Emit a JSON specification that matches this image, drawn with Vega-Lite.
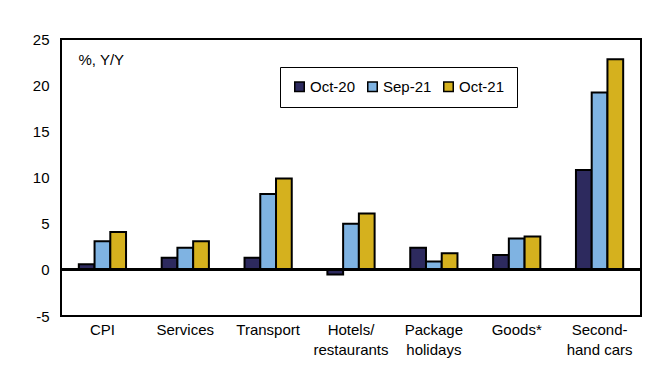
{
  "$schema": "https://vega.github.io/schema/vega-lite/v6.json",
  "width": 580,
  "height": 277,
  "autosize": {"type": "none"},
  "padding": {"left": 61, "top": 39, "right": 27, "bottom": 50},
  "background": "white",
  "config": {
    "view": {"stroke": "black", "strokeWidth": 2},
    "font": "Liberation Sans"
  },
  "data": {
    "values": [
      {"cat": "CPI", "series": "Oct-20", "value": 0.6},
      {"cat": "CPI", "series": "Sep-21", "value": 3.1},
      {"cat": "CPI", "series": "Oct-21", "value": 4.1},
      {"cat": "Services", "series": "Oct-20", "value": 1.3},
      {"cat": "Services", "series": "Sep-21", "value": 2.4},
      {"cat": "Services", "series": "Oct-21", "value": 3.1},
      {"cat": "Transport", "series": "Oct-20", "value": 1.3},
      {"cat": "Transport", "series": "Sep-21", "value": 8.2},
      {"cat": "Transport", "series": "Oct-21", "value": 9.9},
      {"cat": "Hotels/|restaurants", "series": "Oct-20", "value": -0.5},
      {"cat": "Hotels/|restaurants", "series": "Sep-21", "value": 5.0},
      {"cat": "Hotels/|restaurants", "series": "Oct-21", "value": 6.1},
      {"cat": "Package|holidays", "series": "Oct-20", "value": 2.4},
      {"cat": "Package|holidays", "series": "Sep-21", "value": 0.9},
      {"cat": "Package|holidays", "series": "Oct-21", "value": 1.8},
      {"cat": "Goods*", "series": "Oct-20", "value": 1.6},
      {"cat": "Goods*", "series": "Sep-21", "value": 3.4},
      {"cat": "Goods*", "series": "Oct-21", "value": 3.6},
      {"cat": "Second-|hand cars", "series": "Oct-20", "value": 10.8},
      {"cat": "Second-|hand cars", "series": "Sep-21", "value": 19.2},
      {"cat": "Second-|hand cars", "series": "Oct-21", "value": 22.8}
    ]
  },
  "layer": [
    {
      "mark": {"type": "bar", "stroke": "black", "strokeWidth": 2},
      "encoding": {
        "x": {
          "field": "cat",
          "type": "nominal",
          "sort": null,
          "scale": {"paddingInner": 0.43, "paddingOuter": 0.215},
          "axis": {
            "title": null,
            "domain": false,
            "ticks": false,
            "labelAngle": 0,
            "labelFontSize": 15,
            "labelColor": "black",
            "labelPadding": 6,
            "labelLineHeight": 20,
            "labelExpr": "split(datum.label, '|')"
          }
        },
        "xOffset": {"field": "series", "type": "nominal", "sort": ["Oct-20", "Sep-21", "Oct-21"]},
        "y": {
          "field": "value",
          "type": "quantitative",
          "scale": {"domain": [-5, 25], "nice": false, "zero": false},
          "axis": {
            "values": [-5, 0, 5, 10, 15, 20, 25],
            "labelExpr": "replace(datum.label, '−', '-')",
            "grid": false,
            "domain": false,
            "ticks": false,
            "labelFontSize": 15,
            "labelColor": "black",
            "labelPadding": 12,
            "title": "%, Y/Y",
            "titleAngle": 0,
            "titleAlign": "left",
            "titleBaseline": "top",
            "titleX": 17,
            "titleY": 13,
            "titleFontWeight": "normal",
            "titleFontSize": 15,
            "titleColor": "black"
          }
        },
        "color": {
          "field": "series",
          "type": "nominal",
          "scale": {"domain": ["Oct-20", "Sep-21", "Oct-21"], "range": ["#2D2A5E", "#7FB3E2", "#D5B11E"]},
          "legend": {
            "orient": "none",
            "legendX": 219,
            "legendY": 28,
            "direction": "horizontal",
            "title": null,
            "strokeColor": "black",
            "fillColor": "white",
            "padding": 12,
            "symbolType": "square",
            "symbolSize": 90,
            "symbolStrokeColor": "black",
            "symbolStrokeWidth": 1.5,
            "symbolOpacity": 1,
            "labelFontSize": 15,
            "labelColor": "black",
            "labelOffset": 3,
            "columnPadding": 8
          }
        }
      }
    },
    {
      "mark": {"type": "rule", "stroke": "black", "strokeWidth": 2},
      "encoding": {"y": {"datum": 0}}
    }
  ]
}
